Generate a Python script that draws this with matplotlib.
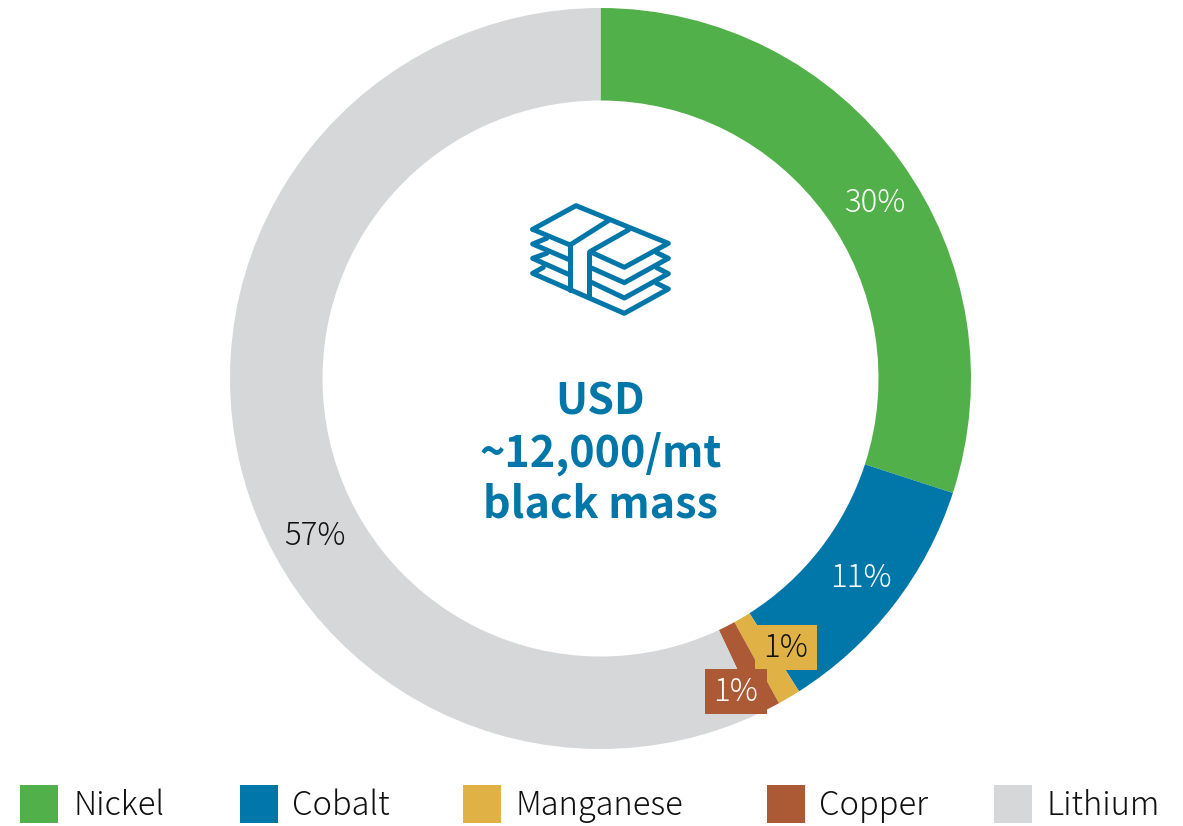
import matplotlib
matplotlib.use('Agg')
import matplotlib.pyplot as plt
from matplotlib.patches import Rectangle

plt.rcParams['font.family'] = ['Noto Sans CJK JP', 'DejaVu Sans']

# share of black mass value
metals = ['Nickel', 'Cobalt', 'Manganese', 'Copper', 'Lithium']
shares = [30, 11, 1, 1, 57]
colors = ['#52b04a', '#0077a8', '#e0b245', '#ac5935', '#d6d7d9']

W, H = 1183, 826
BLUE = '#0077a8'

fig = plt.figure(figsize=(W / 100, H / 100), dpi=100)

# donut, axes box set so the ring lands on the same pixels
cx, cy, R = 600.5, 378.5, 370.5
ax = fig.add_axes([(cx - R) / W, 1 - (cy + R) / H, 2 * R / W, 2 * R / H])
ax.pie(shares, colors=colors, startangle=90, counterclock=False, radius=1,
       wedgeprops=dict(width=92.5 / R))
ax.set_xlim(-1, 1)
ax.set_ylim(-1, 1)

# overlay in pixel coords for labels, icon, legend
ov = fig.add_axes([0, 0, 1, 1])
ov.set_xlim(0, W)
ov.set_ylim(H, 0)
ov.axis('off')
ov.patch.set_alpha(0)

# percent labels
ov.add_patch(Rectangle((755, 625), 62, 45, color=colors[2], lw=0))
ov.add_patch(Rectangle((705, 669), 62, 45, color=colors[3], lw=0))
ov.text(875, 203, '30%', color='white', fontsize=22.5, fontweight='light', ha='center', va='center')
ov.text(861, 578, '11%', color='white', fontsize=22.5, fontweight='light', ha='center', va='center')
ov.text(785.5, 648, '1%', color='#111111', fontsize=22.5, fontweight='light', ha='center', va='center')
ov.text(736, 692, '1%', color='white', fontsize=22.5, fontweight='light', ha='center', va='center')
ov.text(314.5, 536, '57%', color='#111111', fontsize=22.5, fontweight='light', ha='center', va='center')

# centre text
for y, s in zip([401.5, 453.5, 504], ['USD', '~12,000/mt', 'black mass']):
    ov.text(600.5, y, s, color=BLUE, fontsize=31, fontweight='bold', ha='center', va='center')

icon_lines = [
    [(68, 118), (198, 47), (475, 160), (343, 232), (240, 185), (355, 120)],
    [(68, 118), (180, 165), (295, 92)],
    [(180, 165), (180, 300)],
    [(238, 185), (238, 320)],
    [(110, 145), (68, 162), (180, 210)],
    [(110, 190), (68, 205), (180, 255)],
    [(100, 232), (68, 250), (343, 370), (475, 297), (440, 280)],
    [(240, 232), (343, 278), (475, 205), (440, 188)],
    [(240, 275), (343, 324), (475, 251), (440, 233)],
]
for line in icon_lines:
    xs = [510 + p[0] / 3 for p in line]
    ys = [190 + p[1] / 3 for p in line]
    ov.plot(xs, ys, color=BLUE, lw=3.6, solid_joinstyle='round', solid_capstyle='round')

# legend
legend_x = [20, 240, 463, 767, 994]
text_x = [74, 292, 516, 819, 1047]
for x, tx, name, c in zip(legend_x, text_x, metals, colors):
    ov.add_patch(Rectangle((x, 785), 38, 38, color=c, lw=0))
    ov.text(tx, 806, name, color='#111111', fontsize=23.5, fontweight='light', ha='left', va='center')

fig.savefig('out.png', dpi=100)
